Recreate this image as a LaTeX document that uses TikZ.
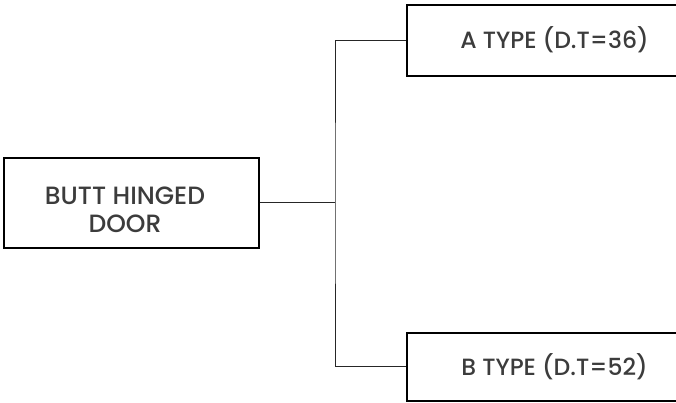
\documentclass[tikz,border=0pt]{standalone}
\usepackage{fontspec}
\setmainfont{Poppins}[UprightFont=* Medium]
\usetikzlibrary{calc}
\definecolor{txtgray}{HTML}{3C3C3C}
\definecolor{linegray}{HTML}{262626}
\tikzset{
  box/.style={draw=black, line width=2pt, fill=none, inner sep=0pt},
  lbl/.style={text=txtgray, align=center, font=\fontsize{23.5}{28.3}\selectfont, inner sep=0pt},
  biglbl/.style={lbl, font=\fontsize{25}{28.3}\selectfont},
  conn/.style={draw=linegray, line width=1pt},
}
\begin{document}
\begin{tikzpicture}[x=1pt,y=1pt]
\useasboundingbox (0,0) rectangle (676,403);
\fill[white] (0,0) rectangle (676,403);
\node[box, minimum width=255pt, minimum height=90pt] (door) at (131.5,200) {};
\node[biglbl] (doortext) at (125,193) {BUTT HINGED\\DOOR};
\node[box, minimum width=293pt, minimum height=71pt] (atype) at (553.5,362.5) {};
\node[lbl] (atext) at (554.5,363) {A TYPE (D.T=36)};
\node[box, minimum width=293pt, minimum height=68pt] (btype) at (553.5,36) {};
\node[lbl] (btext) at (554.5,36) {B TYPE (D.T=52)};
\coordinate (junction) at ($(door.east)+(75,0)$);
\draw[conn] (door.east) -- (junction);
\draw[conn] (atype.west) -| (junction) |- (btype.west);
\end{tikzpicture}
\end{document}
